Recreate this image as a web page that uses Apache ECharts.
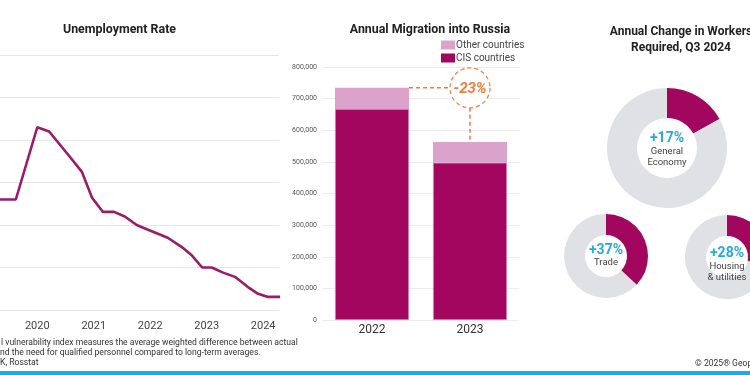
<!DOCTYPE html>
<html><head><meta charset="utf-8">
<script src="https://cdn.jsdelivr.net/npm/echarts@6/dist/echarts.min.js"></script>
<style>html,body{margin:0;padding:0;background:#fff}#c{width:750px;height:375px}</style>
</head><body><div id="c"></div>
<script>
// ---- Unemployment rate (year fraction, %) ----
const unempX = [2019.84,2020.12,2020.50,2020.71,2021.08,2021.29,2021.47,2021.66,2021.86,2022.05,2022.26,2022.44,2022.81,2023.06,2023.24,2023.42,2023.59,2023.79,2024.00,2024.23,2024.41,2024.57,2024.80];
const unempY = [4.6,4.6,6.3,6.2,5.6,5.25,4.64,4.31,4.31,4.2,4.0,3.9,3.7,3.48,3.28,3.0,3.0,2.88,2.78,2.54,2.38,2.31,2.31];
const yearLabels = [2020,2021,2022,2023,2024];

// ---- Migration ----
const migCategories = ['2022','2023'];
const cisValues = [667000,497000];
const otherValues = [67000,66000];

// ---- Workers required ----
const donutNames = ['General\nEconomy','Trade','Housing\n& utilities'];
const donutValues = [17,37,28];

const MAG = '#a3065f', PINK = '#dba3cb', GRAY = '#dfe1e4', BLUE = '#2aa8dc', ORANGE = '#ef7d3c';
const FONT = 'Roboto';

const chart = echarts.init(document.getElementById('c'), null, {renderer:'canvas'});

function donut(i, center, radius, offY){
  return {
    type:'pie', center:center, radius:radius, startAngle:90, clockwise:true,
    silent:true, animation:false,
    label:{show:false}, labelLine:{show:false},
    data:[
      {value:donutValues[i], itemStyle:{color:MAG},
       label:{show:true, position:'center', offset:[0,offY],
         formatter:'{p|+'+donutValues[i]+'%}\n{n|'+donutNames[i].split('\n').join('}\n{n|')+'}',
         rich:{p:{fontFamily:FONT,fontWeight:'bold',fontSize:14,color:BLUE,lineHeight:14},
               n:{fontFamily:FONT,fontSize:9.5,color:'#444',lineHeight:11.5}}}},
      {value:100-donutValues[i], itemStyle:{color:GRAY}}
    ]
  };
}

const TS = {fontFamily:FONT,fontSize:12.4,fontWeight:'bold',color:'#222'};
const option = {
  animation:false,
  textStyle:{fontFamily:FONT},
  title:[
    {text:'Unemployment Rate', left:114.5, top:19, textAlign:'center', textStyle:TS},
    {text:'Annual Migration into Russia', left:425, top:19, textAlign:'center', textStyle:TS},
    {text:'Annual Change in Workers\nRequired, Q3 2024', left:676, top:19, textAlign:'center',
     textStyle:Object.assign({},TS,{fontSize:12,lineHeight:16})}
  ],
  legend:{
    data:['Other countries','CIS countries'], orient:'vertical', left:436, top:35,
    icon:'rect', itemWidth:14, itemHeight:9, itemGap:3, itemStyle:{borderWidth:0},
    textStyle:{fontFamily:FONT,fontSize:10,color:'#444',padding:[0,0,0,-4]}
  },
  grid:[
    {left:0, right:471, top:55, bottom:65},
    {left:323, right:231, top:67, bottom:55}
  ],
  xAxis:[
    {type:'value', gridIndex:0, min:2019.84, max:2024.78,
     axisLine:{show:false}, axisTick:{show:false}, splitLine:{show:false},
     axisLabel:{customValues:yearLabels.map(y=>y+0.5), formatter:v=>String(Math.floor(v)),
       fontFamily:FONT,fontSize:11,color:'#444',margin:11}},
    {type:'category', gridIndex:1, data:migCategories,
     axisLine:{show:false}, axisTick:{show:false},
     axisLabel:{fontFamily:FONT,fontSize:12,color:'#333',margin:4}}
  ],
  yAxis:[
    {type:'value', gridIndex:0, min:2, max:8, interval:1,
     axisLabel:{show:false}, axisLine:{show:false}, axisTick:{show:false},
     splitLine:{lineStyle:{color:'#e6e6e6',width:1}}},
    {type:'value', gridIndex:1, min:0, max:800000, interval:100000,
     axisLine:{show:false}, axisTick:{show:false},
     axisLabel:{fontFamily:FONT,fontSize:7,color:'#555',margin:6,
       formatter:v=>v.toLocaleString('en-US')},
     splitLine:{lineStyle:{color:'#ececec',width:1}}}
  ],
  series:[
    {type:'line', xAxisIndex:0, yAxisIndex:0, data:unempX.map((x,i)=>[x,unempY[i]]),
     symbol:'none', lineStyle:{color:'#9b1a69',width:2.6}, clip:false},
    {name:'CIS countries', type:'bar', stack:'m', xAxisIndex:1, yAxisIndex:1, data:cisValues,
     barWidth:74, itemStyle:{color:MAG, borderColor:'#e7a8d2', borderWidth:0.6}},
    {name:'Other countries', type:'bar', stack:'m', xAxisIndex:1, yAxisIndex:1, data:otherValues,
     barWidth:74, itemStyle:{color:PINK}},
    donut(0,[667,148],[30,60],2),
    donut(1,[606,256],[21,42],0),
    donut(2,[727,257],[21,42],8)
  ]
};
chart.setOption(option);

// annotation built from data
const t22 = cisValues[0]+otherValues[0], t23 = cisValues[1]+otherValues[1];
const pA = chart.convertToPixel({xAxisIndex:1,yAxisIndex:1}, ['2022', t22]);
const pB = chart.convertToPixel({xAxisIndex:1,yAxisIndex:1}, ['2023', t23]);
const pct = Math.round((t23/t22-1)*100);
const R = 20;
const dash = {stroke:ORANGE, lineWidth:1.5, lineDash:[4,3], fill:null};
chart.setOption({graphic:[
  {type:'line', shape:{x1:pA[0]+37, y1:pA[1], x2:pB[0]-R, y2:pA[1]}, style:dash, silent:true},
  {type:'circle', shape:{cx:pB[0], cy:pA[1], r:R}, style:Object.assign({},dash,{lineWidth:1.2,fill:'#fff'}), silent:true},
  {type:'line', shape:{x1:pB[0], y1:pA[1]+R, x2:pB[0], y2:pB[1]}, style:dash, silent:true},
  {type:'text', x:pB[0], y:pA[1]+1, style:{text:pct+'%', fill:ORANGE, font:'italic bold 15px Roboto', align:'center', verticalAlign:'middle'}, silent:true},
  {type:'text', x:1, y:338, style:{text:'l vulnerability index measures the average weighted difference between actual', fill:'#333', font:'8.6px Roboto'}, silent:true},
  {type:'text', x:0, y:348.5, style:{text:'nd the need for qualified personnel compared to long-term averages.', fill:'#333', font:'8.6px Roboto'}, silent:true},
  {type:'text', x:0, y:358.5, style:{text:'K, Rosstat', fill:'#333', font:'8.6px Roboto'}, silent:true},
  {type:'text', x:695, y:359, style:{text:'© 2025® Geopolitical Futures', fill:'#333', font:'8.6px Roboto'}, silent:true},
  {type:'rect', shape:{x:0, y:371, width:750, height:4}, style:{fill:'#1fa9dd'}, silent:true}
]});
</script></body></html>
